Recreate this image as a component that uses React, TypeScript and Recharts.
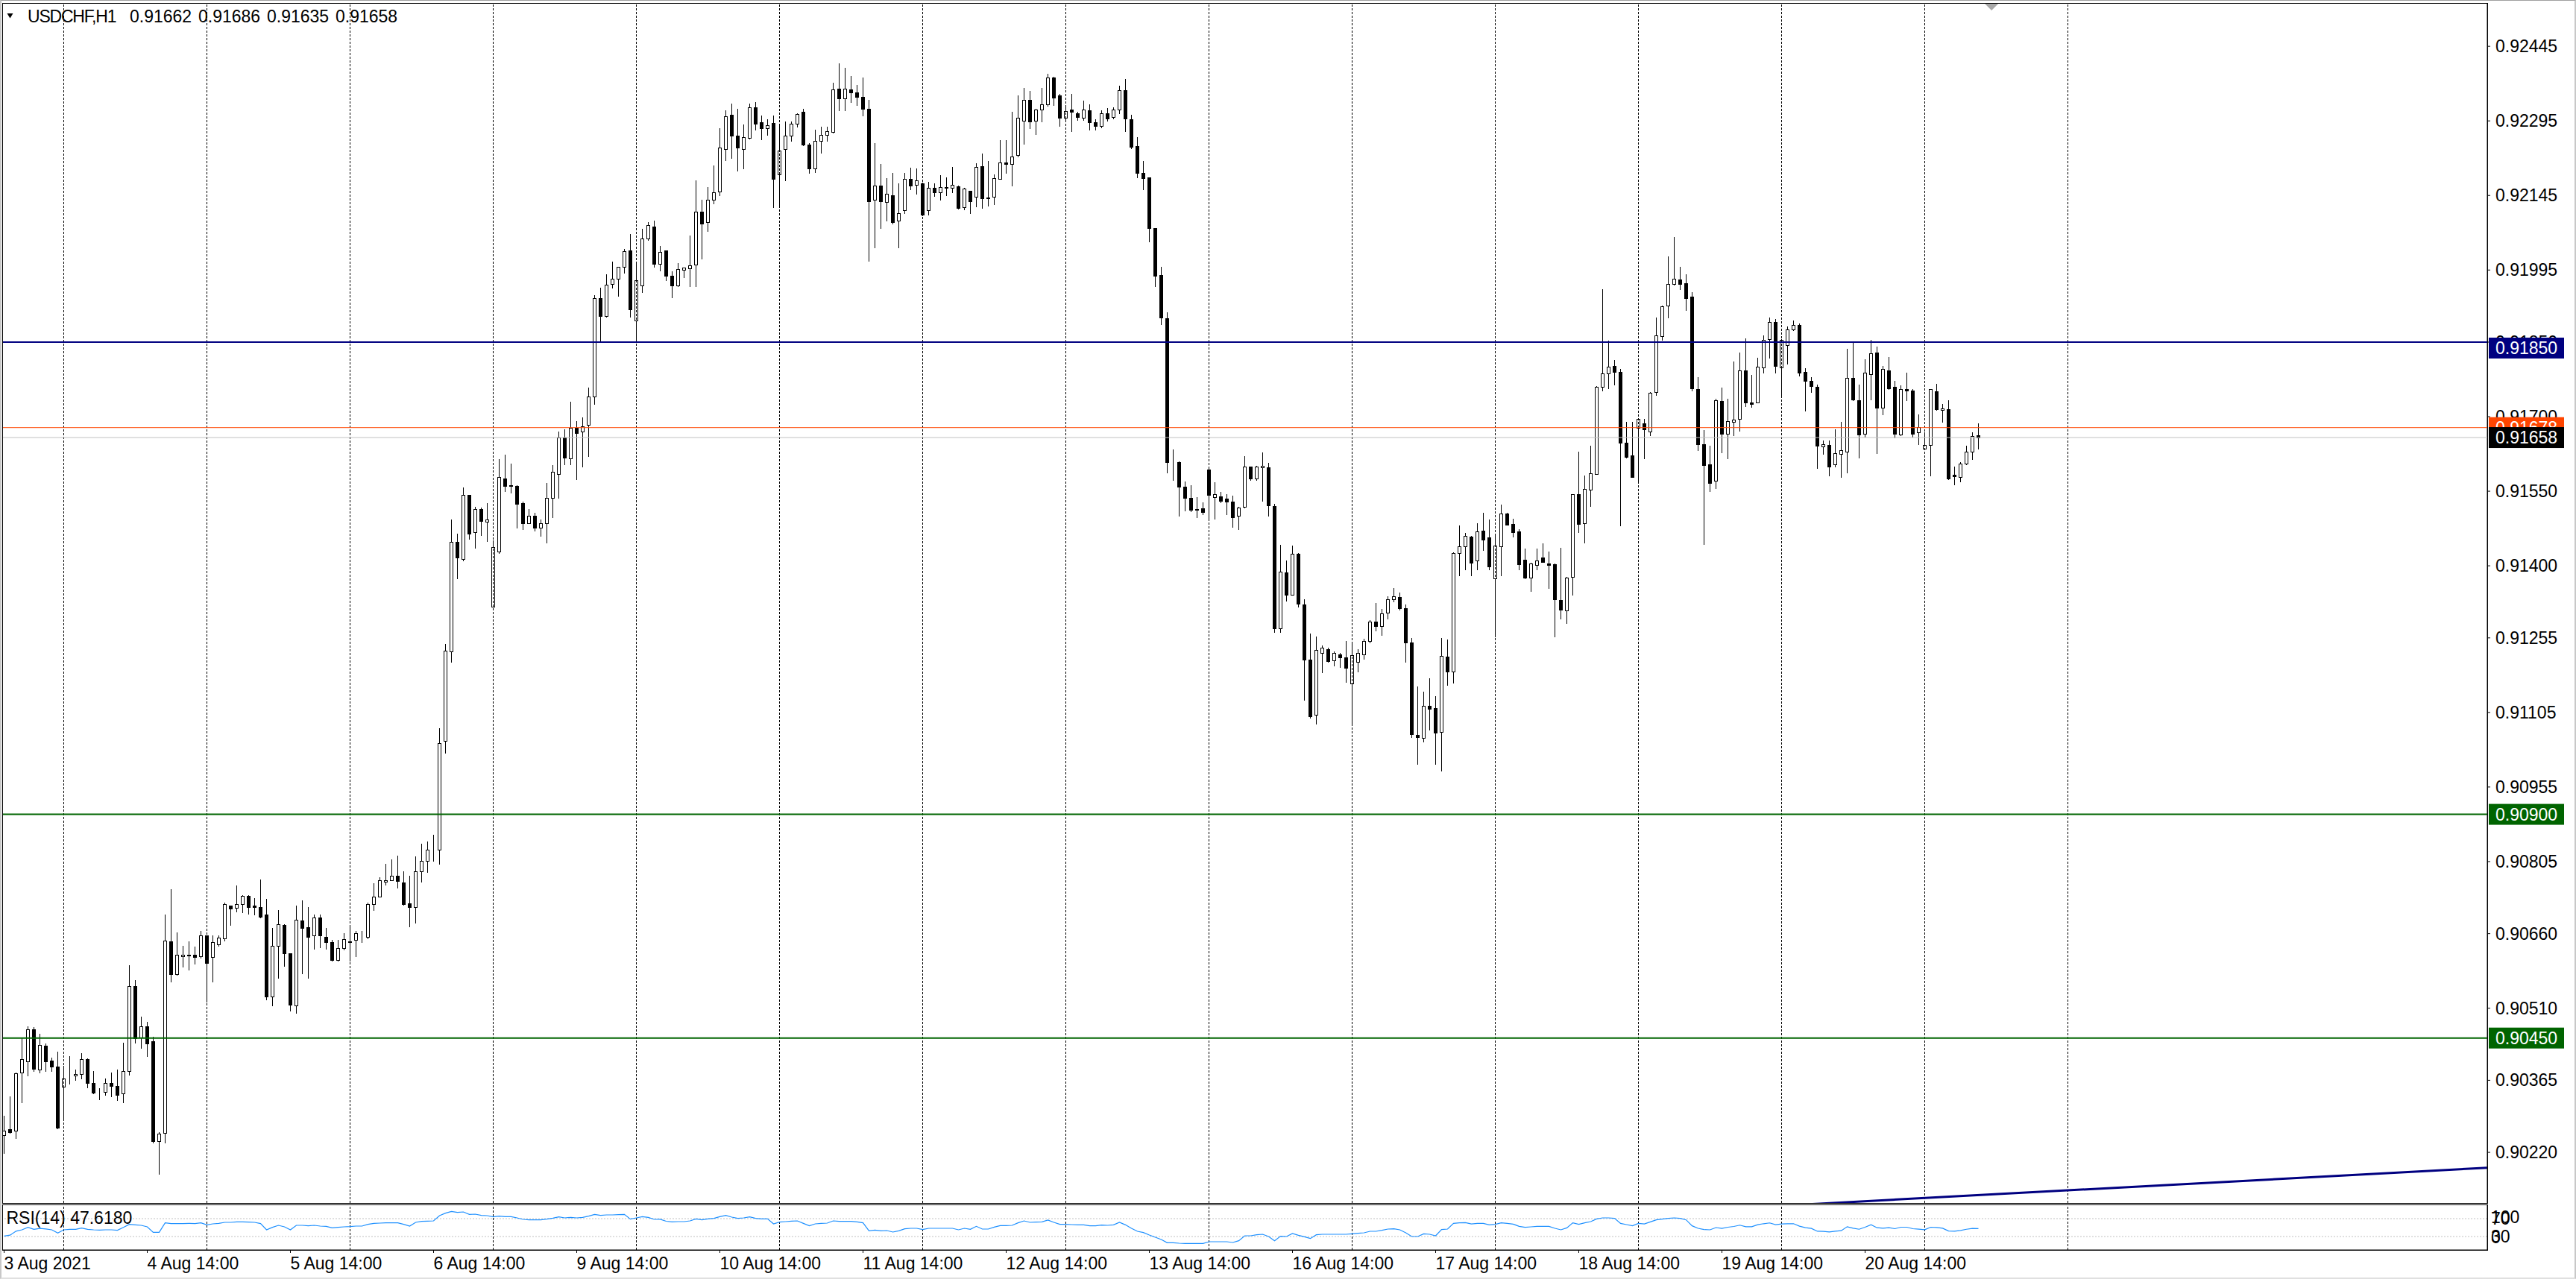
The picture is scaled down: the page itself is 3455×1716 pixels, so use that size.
import React from 'react';
import { ComposedChart, Bar, Line, XAxis, YAxis, ReferenceLine, ReferenceDot } from 'recharts';

type OHLC = [number, number, number, number]; // open, high, low, close

// ---- USDCHF H1 candles, grouped by trading session ----
const aug03: OHLC[] = [
  [0.90255, 0.90294, 0.90219, 0.90264], [0.90266, 0.90332, 0.90259, 0.90260], [0.90264, 0.90380, 0.90248, 0.90379],
  [0.90380, 0.90449, 0.90320, 0.90408], [0.90403, 0.90473, 0.90374, 0.90468], [0.90468, 0.90472, 0.90384, 0.90388],
  [0.90387, 0.90458, 0.90380, 0.90436], [0.90434, 0.90439, 0.90383, 0.90403], [0.90405, 0.90410, 0.90383, 0.90393],
  [0.90392, 0.90423, 0.90268, 0.90269],
];
const aug04: OHLC[] = [
  [0.90352, 0.90394, 0.90287, 0.90368], [0.90374, 0.90414, 0.90358, 0.90375], [0.90374, 0.90387, 0.90365, 0.90378],
  [0.90378, 0.90419, 0.90368, 0.90408], [0.90408, 0.90409, 0.90350, 0.90359], [0.90359, 0.90384, 0.90339, 0.90340],
  [0.90341, 0.90349, 0.90327, 0.90342], [0.90341, 0.90369, 0.90335, 0.90359], [0.90359, 0.90381, 0.90333, 0.90353],
  [0.90353, 0.90386, 0.90325, 0.90335], [0.90338, 0.90440, 0.90321, 0.90383], [0.90383, 0.90596, 0.90376, 0.90554],
  [0.90554, 0.90566, 0.90440, 0.90450], [0.90451, 0.90493, 0.90430, 0.90473], [0.90474, 0.90483, 0.90414, 0.90439],
  [0.90443, 0.90452, 0.90240, 0.90242], [0.90243, 0.90260, 0.90177, 0.90257], [0.90259, 0.90699, 0.90240, 0.90646],
  [0.90645, 0.90750, 0.90564, 0.90578], [0.90578, 0.90663, 0.90577, 0.90617], [0.90614, 0.90635, 0.90594, 0.90618],
  [0.90618, 0.90644, 0.90587, 0.90616], [0.90618, 0.90634, 0.90600, 0.90613], [0.90614, 0.90665, 0.90611, 0.90656],
];
const aug05: OHLC[] = [
  [0.90656, 0.90657, 0.90523, 0.90601], [0.90613, 0.90657, 0.90563, 0.90643], [0.90638, 0.90657, 0.90636, 0.90652],
  [0.90650, 0.90723, 0.90646, 0.90719], [0.90717, 0.90717, 0.90677, 0.90710], [0.90712, 0.90757, 0.90704, 0.90719],
  [0.90719, 0.90737, 0.90703, 0.90736], [0.90736, 0.90737, 0.90700, 0.90714], [0.90717, 0.90732, 0.90698, 0.90713],
  [0.90713, 0.90769, 0.90693, 0.90694], [0.90698, 0.90730, 0.90527, 0.90533], [0.90533, 0.90671, 0.90515, 0.90635],
  [0.90635, 0.90707, 0.90571, 0.90679], [0.90678, 0.90679, 0.90595, 0.90620], [0.90620, 0.90621, 0.90505, 0.90517],
  [0.90515, 0.90717, 0.90500, 0.90688], [0.90687, 0.90727, 0.90580, 0.90671], [0.90673, 0.90713, 0.90571, 0.90653],
  [0.90656, 0.90699, 0.90630, 0.90692], [0.90692, 0.90699, 0.90633, 0.90656], [0.90654, 0.90672, 0.90630, 0.90643],
  [0.90643, 0.90648, 0.90605, 0.90607], [0.90607, 0.90647, 0.90606, 0.90631], [0.90631, 0.90661, 0.90628, 0.90649],
];
const aug06: OHLC[] = [
  [0.90644, 0.90675, 0.90605, 0.90643], [0.90647, 0.90666, 0.90614, 0.90661], [0.90656, 0.90666, 0.90643, 0.90657],
  [0.90654, 0.90722, 0.90651, 0.90719], [0.90719, 0.90761, 0.90708, 0.90735], [0.90735, 0.90774, 0.90734, 0.90768],
  [0.90764, 0.90801, 0.90758, 0.90768], [0.90768, 0.90810, 0.90767, 0.90777], [0.90777, 0.90817, 0.90753, 0.90766],
  [0.90763, 0.90786, 0.90718, 0.90719], [0.90721, 0.90777, 0.90675, 0.90713], [0.90713, 0.90815, 0.90682, 0.90786],
  [0.90786, 0.90841, 0.90765, 0.90807], [0.90807, 0.90845, 0.90784, 0.90829], [0.90830, 0.90859, 0.90807, 0.90831],
  [0.90829, 0.91074, 0.90800, 0.91043], [0.91048, 0.91243, 0.91024, 0.91229], [0.91227, 0.91493, 0.91206, 0.91448],
  [0.91448, 0.91464, 0.91375, 0.91417], [0.91413, 0.91558, 0.91410, 0.91542], [0.91542, 0.91543, 0.91454, 0.91465],
  [0.91467, 0.91519, 0.91436, 0.91514], [0.91514, 0.91517, 0.91462, 0.91490], [0.91488, 0.91526, 0.91449, 0.91493],
];
const aug09: OHLC[] = [
  [0.91318, 0.91451, 0.91317, 0.91438], [0.91428, 0.91615, 0.91425, 0.91579], [0.91576, 0.91623, 0.91550, 0.91561],
  [0.91562, 0.91605, 0.91547, 0.91561], [0.91561, 0.91562, 0.91477, 0.91524], [0.91526, 0.91529, 0.91474, 0.91486],
  [0.91486, 0.91514, 0.91485, 0.91501], [0.91501, 0.91506, 0.91470, 0.91477], [0.91477, 0.91493, 0.91460, 0.91486],
  [0.91486, 0.91566, 0.91446, 0.91537], [0.91537, 0.91602, 0.91498, 0.91589], [0.91585, 0.91670, 0.91537, 0.91658],
  [0.91658, 0.91675, 0.91604, 0.91618], [0.91616, 0.91730, 0.91604, 0.91678], [0.91678, 0.91691, 0.91574, 0.91667],
  [0.91670, 0.91698, 0.91600, 0.91681], [0.91683, 0.91759, 0.91621, 0.91741], [0.91741, 0.91944, 0.91725, 0.91938],
  [0.91939, 0.91960, 0.91851, 0.91902], [0.91902, 0.91986, 0.91901, 0.91966], [0.91967, 0.92012, 0.91960, 0.91978],
  [0.91978, 0.92002, 0.91943, 0.92001], [0.92001, 0.92038, 0.91990, 0.92033], [0.92035, 0.92067, 0.91901, 0.91916],
];
const aug10: OHLC[] = [
  [0.91894, 0.92010, 0.91851, 0.91975], [0.91964, 0.92078, 0.91950, 0.92059], [0.92058, 0.92091, 0.92056, 0.92085],
  [0.92083, 0.92094, 0.92002, 0.92007], [0.92008, 0.92043, 0.91994, 0.92031], [0.92035, 0.92035, 0.91975, 0.91983],
  [0.91983, 0.91993, 0.91940, 0.91964], [0.91964, 0.92009, 0.91963, 0.91997], [0.91996, 0.92000, 0.91980, 0.92000],
  [0.91998, 0.92064, 0.91962, 0.92004], [0.92006, 0.92175, 0.91962, 0.92112], [0.92112, 0.92137, 0.92018, 0.92089],
  [0.92091, 0.92162, 0.92073, 0.92137], [0.92136, 0.92206, 0.92129, 0.92152], [0.92153, 0.92280, 0.92145, 0.92241],
  [0.92238, 0.92317, 0.92216, 0.92305], [0.92307, 0.92330, 0.92221, 0.92265], [0.92266, 0.92320, 0.92195, 0.92242],
  [0.92238, 0.92288, 0.92200, 0.92262], [0.92261, 0.92330, 0.92260, 0.92323], [0.92323, 0.92333, 0.92278, 0.92290],
  [0.92293, 0.92306, 0.92258, 0.92280], [0.92280, 0.92298, 0.92267, 0.92286], [0.92291, 0.92306, 0.92122, 0.92178],
];
const aug11: OHLC[] = [
  [0.92187, 0.92290, 0.92123, 0.92235], [0.92238, 0.92294, 0.92176, 0.92265], [0.92265, 0.92294, 0.92255, 0.92290],
  [0.92290, 0.92311, 0.92283, 0.92309], [0.92313, 0.92319, 0.92246, 0.92247], [0.92248, 0.92251, 0.92191, 0.92199],
  [0.92199, 0.92277, 0.92192, 0.92255], [0.92255, 0.92283, 0.92231, 0.92267], [0.92267, 0.92284, 0.92255, 0.92274],
  [0.92273, 0.92372, 0.92272, 0.92359], [0.92360, 0.92411, 0.92317, 0.92341], [0.92341, 0.92402, 0.92316, 0.92360],
  [0.92358, 0.92385, 0.92333, 0.92352], [0.92352, 0.92367, 0.92327, 0.92343], [0.92343, 0.92382, 0.92306, 0.92320],
  [0.92319, 0.92337, 0.92014, 0.92133], [0.92136, 0.92250, 0.92041, 0.92165], [0.92165, 0.92208, 0.92079, 0.92133],
  [0.92132, 0.92180, 0.92094, 0.92148], [0.92145, 0.92191, 0.92089, 0.92092], [0.92094, 0.92169, 0.92040, 0.92109],
  [0.92115, 0.92191, 0.92109, 0.92178], [0.92178, 0.92201, 0.92157, 0.92165], [0.92167, 0.92199, 0.92148, 0.92175],
];
const aug12: OHLC[] = [
  [0.92170, 0.92171, 0.92105, 0.92106], [0.92115, 0.92173, 0.92106, 0.92160], [0.92160, 0.92170, 0.92144, 0.92152],
  [0.92152, 0.92186, 0.92136, 0.92162], [0.92161, 0.92181, 0.92145, 0.92162], [0.92160, 0.92203, 0.92152, 0.92167],
  [0.92163, 0.92165, 0.92118, 0.92120], [0.92121, 0.92160, 0.92117, 0.92159], [0.92154, 0.92154, 0.92110, 0.92134],
  [0.92142, 0.92210, 0.92123, 0.92202], [0.92204, 0.92229, 0.92120, 0.92139], [0.92141, 0.92214, 0.92124, 0.92140],
  [0.92142, 0.92188, 0.92128, 0.92180], [0.92178, 0.92256, 0.92178, 0.92211], [0.92211, 0.92256, 0.92191, 0.92208],
  [0.92208, 0.92314, 0.92165, 0.92224], [0.92227, 0.92347, 0.92224, 0.92301], [0.92295, 0.92362, 0.92249, 0.92337],
  [0.92337, 0.92355, 0.92281, 0.92294], [0.92295, 0.92320, 0.92268, 0.92318], [0.92318, 0.92361, 0.92294, 0.92328],
  [0.92328, 0.92390, 0.92326, 0.92383], [0.92383, 0.92384, 0.92327, 0.92342], [0.92347, 0.92349, 0.92285, 0.92301],
];
const aug13: OHLC[] = [
  [0.92301, 0.92323, 0.92297, 0.92315], [0.92318, 0.92349, 0.92275, 0.92313], [0.92310, 0.92313, 0.92297, 0.92303],
  [0.92302, 0.92336, 0.92297, 0.92318], [0.92316, 0.92328, 0.92277, 0.92292], [0.92292, 0.92298, 0.92277, 0.92285],
  [0.92285, 0.92316, 0.92282, 0.92311], [0.92310, 0.92321, 0.92295, 0.92300], [0.92303, 0.92323, 0.92300, 0.92318],
  [0.92318, 0.92366, 0.92310, 0.92357], [0.92357, 0.92379, 0.92275, 0.92300], [0.92299, 0.92308, 0.92240, 0.92243],
  [0.92245, 0.92263, 0.92182, 0.92191], [0.92191, 0.92214, 0.92158, 0.92180], [0.92181, 0.92181, 0.92053, 0.92079],
  [0.92079, 0.92080, 0.91962, 0.91983], [0.91985, 0.92002, 0.91886, 0.91900], [0.91898, 0.91910, 0.91588, 0.91609],
  [0.91609, 0.91634, 0.91573, 0.91608], [0.91609, 0.91610, 0.91500, 0.91559], [0.91559, 0.91569, 0.91511, 0.91537],
  [0.91537, 0.91562, 0.91510, 0.91512], [0.91512, 0.91538, 0.91498, 0.91514], [0.91515, 0.91528, 0.91504, 0.91508],
];
const aug16: OHLC[] = [
  [0.91594, 0.91595, 0.91495, 0.91542], [0.91538, 0.91568, 0.91495, 0.91544], [0.91540, 0.91549, 0.91527, 0.91531],
  [0.91535, 0.91544, 0.91504, 0.91529], [0.91529, 0.91541, 0.91478, 0.91498], [0.91500, 0.91518, 0.91474, 0.91517],
  [0.91518, 0.91621, 0.91517, 0.91599], [0.91599, 0.91600, 0.91573, 0.91575], [0.91575, 0.91601, 0.91573, 0.91599],
  [0.91598, 0.91628, 0.91531, 0.91601], [0.91598, 0.91607, 0.91501, 0.91522], [0.91520, 0.91524, 0.91266, 0.91274],
  [0.91274, 0.91442, 0.91266, 0.91388], [0.91387, 0.91410, 0.91330, 0.91342], [0.91342, 0.91441, 0.91341, 0.91424],
  [0.91424, 0.91425, 0.91317, 0.91323], [0.91322, 0.91332, 0.91130, 0.91211], [0.91211, 0.91264, 0.91094, 0.91098],
  [0.91101, 0.91258, 0.91083, 0.91230], [0.91224, 0.91240, 0.91186, 0.91235], [0.91232, 0.91235, 0.91206, 0.91208],
  [0.91209, 0.91227, 0.91200, 0.91224], [0.91222, 0.91225, 0.91197, 0.91215], [0.91215, 0.91249, 0.91167, 0.91195],
];
const aug17: OHLC[] = [
  [0.91163, 0.91246, 0.91080, 0.91220], [0.91206, 0.91232, 0.91188, 0.91224], [0.91222, 0.91253, 0.91212, 0.91248],
  [0.91248, 0.91290, 0.91245, 0.91288], [0.91288, 0.91325, 0.91269, 0.91278], [0.91279, 0.91313, 0.91261, 0.91304],
  [0.91305, 0.91338, 0.91294, 0.91332], [0.91332, 0.91355, 0.91328, 0.91338], [0.91337, 0.91346, 0.91312, 0.91314],
  [0.91314, 0.91322, 0.91206, 0.91246], [0.91246, 0.91254, 0.91055, 0.91061], [0.91060, 0.91157, 0.91002, 0.91056],
  [0.91054, 0.91147, 0.91047, 0.91118], [0.91118, 0.91174, 0.91071, 0.91113], [0.91114, 0.91138, 0.91002, 0.91065],
  [0.91066, 0.91255, 0.90988, 0.91218], [0.91217, 0.91251, 0.91161, 0.91188], [0.91187, 0.91427, 0.91165, 0.91426],
  [0.91426, 0.91481, 0.91381, 0.91439], [0.91439, 0.91466, 0.91393, 0.91460], [0.91459, 0.91460, 0.91381, 0.91406],
  [0.91410, 0.91485, 0.91393, 0.91469], [0.91470, 0.91506, 0.91432, 0.91453], [0.91457, 0.91493, 0.91393, 0.91399],
];
const aug18: OHLC[] = [
  [0.91375, 0.91462, 0.91257, 0.91441], [0.91439, 0.91523, 0.91381, 0.91505], [0.91505, 0.91506, 0.91482, 0.91483],
  [0.91484, 0.91495, 0.91459, 0.91467], [0.91469, 0.91474, 0.91393, 0.91403], [0.91412, 0.91435, 0.91375, 0.91376],
  [0.91376, 0.91406, 0.91349, 0.91405], [0.91402, 0.91435, 0.91392, 0.91410], [0.91417, 0.91445, 0.91408, 0.91408],
  [0.91405, 0.91428, 0.91355, 0.91401], [0.91403, 0.91404, 0.91258, 0.91333], [0.91331, 0.91436, 0.91294, 0.91312],
  [0.91310, 0.91377, 0.91284, 0.91376], [0.91378, 0.91544, 0.91341, 0.91544], [0.91544, 0.91630, 0.91468, 0.91484],
  [0.91486, 0.91582, 0.91446, 0.91554], [0.91553, 0.91642, 0.91520, 0.91586], [0.91585, 0.91762, 0.91584, 0.91760],
  [0.91760, 0.91956, 0.91753, 0.91787], [0.91787, 0.91853, 0.91757, 0.91801], [0.91802, 0.91814, 0.91765, 0.91790],
  [0.91790, 0.91796, 0.91481, 0.91648], [0.91648, 0.91690, 0.91618, 0.91619], [0.91622, 0.91690, 0.91578, 0.91578],
];
const aug19: OHLC[] = [
  [0.91678, 0.91696, 0.91566, 0.91695], [0.91686, 0.91695, 0.91616, 0.91674], [0.91670, 0.91749, 0.91663, 0.91748],
  [0.91749, 0.91900, 0.91744, 0.91864], [0.91862, 0.91924, 0.91855, 0.91922], [0.91924, 0.92023, 0.91899, 0.91967],
  [0.91967, 0.92062, 0.91966, 0.91977], [0.91976, 0.92001, 0.91957, 0.91967], [0.91969, 0.91986, 0.91915, 0.91938],
  [0.91941, 0.91950, 0.91752, 0.91757], [0.91756, 0.91780, 0.91632, 0.91645], [0.91645, 0.91673, 0.91444, 0.91603],
  [0.91604, 0.91642, 0.91550, 0.91567], [0.91571, 0.91736, 0.91556, 0.91733], [0.91732, 0.91759, 0.91628, 0.91666],
  [0.91666, 0.91736, 0.91616, 0.91691], [0.91689, 0.91811, 0.91663, 0.91694], [0.91695, 0.91829, 0.91672, 0.91793],
  [0.91793, 0.91857, 0.91721, 0.91729], [0.91729, 0.91784, 0.91720, 0.91726], [0.91729, 0.91818, 0.91728, 0.91801],
  [0.91799, 0.91864, 0.91789, 0.91854], [0.91856, 0.91899, 0.91819, 0.91890], [0.91890, 0.91896, 0.91788, 0.91802],
];
const aug20: OHLC[] = [
  [0.91799, 0.91856, 0.91743, 0.91855], [0.91844, 0.91881, 0.91807, 0.91876], [0.91875, 0.91893, 0.91874, 0.91885],
  [0.91885, 0.91888, 0.91783, 0.91789], [0.91790, 0.91798, 0.91712, 0.91772], [0.91772, 0.91779, 0.91749, 0.91761],
  [0.91760, 0.91764, 0.91597, 0.91641], [0.91640, 0.91652, 0.91625, 0.91644], [0.91643, 0.91652, 0.91582, 0.91599],
  [0.91604, 0.91675, 0.91599, 0.91626], [0.91625, 0.91689, 0.91578, 0.91632], [0.91630, 0.91836, 0.91588, 0.91778],
  [0.91778, 0.91850, 0.91733, 0.91734], [0.91733, 0.91765, 0.91618, 0.91664], [0.91665, 0.91815, 0.91659, 0.91789],
  [0.91786, 0.91855, 0.91735, 0.91827], [0.91829, 0.91841, 0.91627, 0.91718], [0.91718, 0.91802, 0.91704, 0.91796],
  [0.91793, 0.91820, 0.91756, 0.91757], [0.91760, 0.91772, 0.91658, 0.91666], [0.91664, 0.91763, 0.91663, 0.91756],
  [0.91755, 0.91788, 0.91733, 0.91753], [0.91752, 0.91755, 0.91660, 0.91666], [0.91668, 0.91704, 0.91645, 0.91679],
];
const aug23: OHLC[] = [
  [0.91635, 0.91669, 0.91634, 0.91643], [0.91643, 0.91756, 0.91582, 0.91755], [0.91751, 0.91766, 0.91714, 0.91715],
  [0.91714, 0.91725, 0.91689, 0.91716], [0.91715, 0.91733, 0.91574, 0.91576], [0.91583, 0.91600, 0.91563, 0.91580],
  [0.91579, 0.91609, 0.91570, 0.91605], [0.91606, 0.91642, 0.91604, 0.91630], [0.91630, 0.91669, 0.91615, 0.91661],
  [0.91662, 0.91686, 0.91635, 0.91658],
];

// ---- RSI(14) readings, same session grouping ----
const rsiAug03 = [31, 33, 42, 45, 50.5, 46, 48, 47, 45, 38];
const rsiAug04 = [45, 46, 46, 49, 46, 45, 44.5, 45, 45, 44, 50.5, 57.2, 56, 55, 51.7, 39.4, 39.4, 60.6, 58.9, 58.9, 58.9, 59.4, 58.9, 60.6];
const rsiAug05 = [56.1, 58.3, 59.4, 61.7, 61.7, 62.8, 62.8, 62.2, 61.7, 58.9, 45, 50.6, 55, 51.7, 45, 55, 55, 53.9, 55, 53.3, 52.8, 49.4, 50.6, 51.7];
const rsiAug06 = [52.2, 53.3, 53.3, 57.2, 59.4, 60, 60.6, 60.6, 60.6, 57.2, 53.3, 61.7, 63.9, 64.4, 65, 76.7, 82.2, 86.1, 83.9, 85, 79.4, 80, 77.2, 76.7];
const rsiAug09 = [73.9, 75.6, 74.4, 74.4, 71.7, 68.3, 67.2, 67.2, 67.2, 68.9, 71.1, 73.9, 71.7, 72.8, 71.7, 72.8, 75.6, 79.4, 77.2, 78.3, 78.3, 78.9, 79.4, 68.9];
const rsiAug10 = [71.7, 74.4, 72.8, 68.3, 68.5, 64.2, 62.8, 63.3, 63.3, 65, 69.4, 67.2, 69.4, 70.6, 74.4, 77.2, 73.3, 70.6, 71.7, 73.9, 70.6, 69.4, 69.4, 58.3];
const rsiAug11 = [62.2, 63.3, 64.4, 65, 59.4, 53.9, 58.3, 59.4, 60, 65, 63.9, 63.9, 63.9, 62.8, 60.6, 42.8, 44.4, 42.8, 43.3, 40, 42.8, 47.2, 48.3, 48.3];
const rsiAug12 = [45.6, 48.3, 48.3, 48.3, 48.3, 48.3, 45, 48.3, 46.1, 52.8, 46.7, 46.7, 51.1, 54.4, 54.4, 55, 60.6, 65, 61.7, 62.2, 62.8, 66.7, 61.7, 57.2];
const rsiAug13 = [57.2, 56.7, 56.1, 56.1, 53.9, 53.9, 55.6, 55, 56.1, 61.7, 56.1, 48.3, 41.7, 38.9, 33.3, 28.3, 23.3, 16.1, 16.1, 15, 14.4, 14.4, 14.4, 14.4];
const rsiAug16 = [18.3, 18.3, 18.3, 18.3, 16.7, 20.6, 31.7, 31.7, 33.9, 35, 30, 20.6, 30.6, 30, 36.7, 32.8, 29.4, 25.6, 33.9, 35, 35, 35, 35, 35];
const rsiAug17 = [36.1, 37.2, 38.3, 41.7, 41.7, 43.9, 46.7, 47.2, 45, 38.3, 30, 30, 36.1, 35, 31.7, 45.6, 46.7, 59.4, 60.6, 61.1, 58.3, 59.4, 59.4, 56.1];
const rsiAug18 = [57.2, 60.6, 59.4, 57.8, 52.8, 50.6, 51.7, 52.8, 52.8, 52.8, 48.3, 45, 49.4, 60.6, 57.2, 60.6, 63.3, 69.4, 71.7, 71.7, 70.6, 59.4, 56.7, 53.9];
const rsiAug19 = [59.4, 58.3, 62.8, 67.2, 68.9, 70.6, 71.7, 70.6, 67.2, 53.9, 48.3, 45.6, 45, 50, 48, 50.8, 52.5, 55.4, 52, 52, 56.5, 58.7, 60.4, 56.5];
const rsiAug20 = [58.2, 58.7, 58.7, 53.1, 49.7, 48, 41.8, 41.3, 40.1, 41.8, 43, 52, 48.6, 46.3, 50.8, 56.5, 49.7, 48.6, 49.7, 47.5, 50.8, 50.8, 47.5, 46.3];
const rsiAug23 = [45.2, 50.8, 50.3, 48.6, 42.4, 41.8, 43.5, 46.3, 48, 47.6];

// ---- axis / annotation values ----
const priceTicks = [0.92445, 0.92295, 0.92145, 0.91995, 0.9185, 0.917, 0.9155, 0.914, 0.91255, 0.91105, 0.90955, 0.90805, 0.9066, 0.9051, 0.90365, 0.9022];
const rsiTicks = [0, 30, 70, 100];
const rsiLevels = [70, 30];
const timeTickIndex = [0, 24, 48, 72, 96, 120, 144, 168, 192, 216, 240, 264, 288, 312];
const timeTickLabels = ['3 Aug 2021', '4 Aug 14:00', '5 Aug 14:00', '6 Aug 14:00', '9 Aug 14:00', '10 Aug 14:00', '11 Aug 14:00',
  '12 Aug 14:00', '13 Aug 14:00', '16 Aug 14:00', '17 Aug 14:00', '18 Aug 14:00', '19 Aug 14:00', '20 Aug 14:00'];
const daySeparatorIndex = [10, 34, 58, 82, 106, 130, 154, 178, 202, 226, 250, 274, 298, 322, 346];
const resistanceLevel = 0.9185;
const supportLevels = [0.909, 0.9045];
const askPrice = 0.91678;
const bidPrice = 0.91658;
const trendIndex = [280, 416.3];
const trendPrice = [0.90101, 0.90189];
const chartShiftIndex = 333.2;
const symbolName = 'USDCHF,H1';
const lastBar = ['0.91662', '0.91686', '0.91635', '0.91658'];
const rsiTitle = 'RSI(14) 47.6180';

const candles: OHLC[] = [aug03, aug04, aug05, aug06, aug09, aug10, aug11, aug12, aug13, aug16, aug17, aug18, aug19, aug20, aug23].flat();
const rsiValues: number[] = [rsiAug03, rsiAug04, rsiAug05, rsiAug06, rsiAug09, rsiAug10, rsiAug11, rsiAug12, rsiAug13,
  rsiAug16, rsiAug17, rsiAug18, rsiAug19, rsiAug20, rsiAug23].flat();

const rows = candles.map((k, i) => ({ i, o: k[0], h: k[1], l: k[2], c: k[3], range: [k[2], k[1]], rsi: rsiValues[i] }));

// ---- layout ----
const FONT = '"Liberation Sans", Arial, sans-serif';
const FS = 23;
const X_DOMAIN: [number, number] = [-0.3125, 416.3125];
const P_DOMAIN: [number, number] = [0.901182, 0.925322];
const NAVY = '#000080';
const GREEN = '#006400';
const MAIN_MARGIN = { top: 4, right: 0, bottom: 2, left: 3 };

function CandleShape(props: any) {
  const { x, y, width, height, payload } = props;
  if (!payload || x == null || y == null) return null;
  const { o, h, l, c } = payload;
  const yTop = Math.min(y, y + height);
  const yBot = Math.max(y, y + height);
  const span = h - l;
  const toY = (p: number) => (span > 0 ? yTop + ((h - p) / span) * (yBot - yTop) : yTop);
  const cx = Math.floor(x + width / 2) + 0.5;
  const yo = toY(o);
  const yc = toY(c);
  const bt = Math.round(Math.min(yo, yc)) + 0.5;
  const bb = Math.round(Math.max(yo, yc)) + 0.5;
  const up = c >= o;
  return (
    <g>
      <line x1={cx} x2={cx} y1={Math.round(yTop)} y2={Math.round(yBot) + 1} stroke="#000" strokeWidth={1} />
      <rect x={cx - 2} y={bt} width={4} height={Math.max(0, bb - bt)} fill={up ? '#fff' : '#000'} stroke="#000" strokeWidth={1} />
    </g>
  );
}

function PriceTick(props: any) {
  const { x, y, payload } = props;
  return (
    <text x={x} y={y + 8} fontSize={FS} fontFamily={FONT} fill="#000" textAnchor="start">
      {Number(payload.value).toFixed(5)}
    </text>
  );
}

function RsiTick(props: any) {
  const { x, y, payload } = props;
  const cy = Math.min(Math.max(y, 15.5), 42.5);
  return (
    <text x={x} y={cy + 8} fontSize={FS} fontFamily={FONT} fill="#000" textAnchor="start">
      {payload.value}
    </text>
  );
}

function TimeTick(props: any) {
  const { x, y, payload } = props;
  const k = timeTickIndex.indexOf(payload.value);
  return (
    <text x={x} y={y + 20} fontSize={FS} fontFamily={FONT} fill="#000" textAnchor="start">
      {k >= 0 ? timeTickLabels[k] : ''}
    </text>
  );
}

function tag(text: string, fill: string, dy: number) {
  return (lp: any) => {
    const vb = lp && lp.viewBox;
    if (!vb) return null;
    const x0 = vb.x + vb.width + 2;
    const cy = vb.y + dy;
    return (
      <g>
        <rect x={x0} y={cy - 14} width={101} height={28} fill={fill} />
        <text x={x0 + 9} y={cy + 8} fontSize={FS} fontFamily={FONT} fill="#fff">{text}</text>
      </g>
    );
  };
}

export default function App() {
  return (
    <div style={{ position: 'fixed', left: 0, top: 0, width: 3455, height: 1716, background: '#fff', overflow: 'hidden' }}>
      {/* main price panel */}
      <div style={{ position: 'absolute', left: 0, top: 0 }}>
        <ComposedChart width={3455} height={1616} data={rows} margin={MAIN_MARGIN}>
          <XAxis dataKey="i" type="number" domain={X_DOMAIN} allowDataOverflow hide />
          <YAxis
            orientation="right"
            type="number"
            domain={P_DOMAIN}
            allowDataOverflow
            ticks={priceTicks}
            interval={0}
            width={119}
            axisLine={{ stroke: '#000' }}
            tickLine={{ stroke: '#000' }}
            tickSize={4}
            tickMargin={7}
            tick={<PriceTick />}
          />
          {daySeparatorIndex.map((d) => (
            <ReferenceLine key={'sep' + d} x={d} stroke="#000" strokeWidth={1} strokeDasharray="3 2" ifOverflow="hidden" />
          ))}
          <Bar dataKey="range" barSize={8} isAnimationActive={false} shape={(p: any) => <CandleShape {...p} />} />
          <ReferenceLine
            segment={[{ x: trendIndex[0], y: trendPrice[0] }, { x: trendIndex[1], y: trendPrice[1] }]}
            stroke={NAVY}
            strokeWidth={3}
            ifOverflow="hidden"
          />
          <ReferenceDot
            x={chartShiftIndex}
            y={P_DOMAIN[1]}
            ifOverflow="visible"
            shape={(p: any) => (
              <polygon points={`${p.cx - 9},${p.cy + 1} ${p.cx + 9},${p.cy + 1} ${p.cx},${p.cy + 10}`} fill="#A8A8A8" />
            )}
          />
        </ComposedChart>
      </div>

      {/* overlay: horizontal price levels and their scale tags (drawn above the scale labels) */}
      <div style={{ position: 'absolute', left: 0, top: 0 }}>
        <ComposedChart width={3455} height={1616} data={rows} margin={MAIN_MARGIN}>
          <XAxis dataKey="i" type="number" domain={X_DOMAIN} allowDataOverflow hide />
          <YAxis orientation="right" type="number" domain={P_DOMAIN} allowDataOverflow width={119} axisLine={false} tickLine={false} tick={false} />
          <Line dataKey="c" stroke="none" dot={false} isAnimationActive={false} activeDot={false} />
          <ReferenceLine y={resistanceLevel} stroke={NAVY} strokeWidth={2} label={tag(resistanceLevel.toFixed(5), NAVY, 8)} />
          {supportLevels.map((s) => (
            <ReferenceLine key={'sup' + s} y={s} stroke={GREEN} strokeWidth={2} label={tag(s.toFixed(5), GREEN, 0)} />
          ))}
          <ReferenceLine y={askPrice} stroke="#FF4500" strokeWidth={1} label={tag(askPrice.toFixed(5), '#FF4500', 0)} />
          <ReferenceLine y={bidPrice} stroke="#C0C0C0" strokeWidth={1} label={tag(bidPrice.toFixed(5), '#000', 0)} />
        </ComposedChart>
      </div>

      {/* RSI panel + time axis */}
      <div style={{ position: 'absolute', left: 0, top: 1617 }}>
        <ComposedChart width={3455} height={99} data={rows} margin={{ top: 0, right: 0, bottom: 0, left: 3 }}>
          <XAxis
            dataKey="i"
            type="number"
            domain={X_DOMAIN}
            allowDataOverflow
            ticks={timeTickIndex}
            interval={0}
            height={39}
            axisLine={{ stroke: '#000' }}
            tickLine={{ stroke: '#000' }}
            tickSize={4}
            tickMargin={2}
            tick={<TimeTick />}
          />
          <YAxis
            orientation="right"
            type="number"
            domain={[0, 100]}
            allowDataOverflow
            ticks={rsiTicks}
            interval={0}
            width={119}
            axisLine={{ stroke: '#000' }}
            tickLine={false}
            tickSize={0}
            tickMargin={5}
            tick={<RsiTick />}
          />
          {rsiLevels.map((lv) => (
            <ReferenceLine key={'lv' + lv} y={lv} stroke="#C0C0C0" strokeWidth={1} strokeDasharray="2 2" />
          ))}
          {daySeparatorIndex.map((d) => (
            <ReferenceLine key={'rsep' + d} x={d} stroke="#000" strokeWidth={1} strokeDasharray="3 2" ifOverflow="hidden" />
          ))}
          <Line dataKey="rsi" type="linear" stroke="#1E90FF" strokeWidth={1.2} dot={false} isAnimationActive={false} />
        </ComposedChart>
      </div>

      {/* panel frames */}
      <div style={{ position: 'absolute', left: 3, top: 4, width: 3334, height: 1611, border: '1px solid #000', boxSizing: 'border-box', pointerEvents: 'none' }} />
      <div style={{ position: 'absolute', left: 3, top: 1616, width: 3334, height: 62, border: '1px solid #000', boxSizing: 'border-box', pointerEvents: 'none' }} />
      <div style={{ position: 'absolute', left: 0, top: 0, width: 3455, height: 1716, borderTop: '1px solid #a0a0a0', borderLeft: '2px solid #c8c8c8', borderRight: '2px solid #c8c8c8', borderBottom: '2px solid #e0e0e0', boxSizing: 'border-box', pointerEvents: 'none' }} />

      {/* header text */}
      <svg style={{ position: 'absolute', left: 0, top: 0 }} width={700} height={40}>
        <polygon points="9.5,18 17.5,18 13.5,24.5" fill="#000" />
        <text x={37} y={29.5} fontSize={FS} fontFamily={FONT} fill="#000" style={{ whiteSpace: 'pre' }}>
          <tspan letterSpacing={-1.2}>{symbolName}</tspan>
          <tspan x={174}>{lastBar[0]}</tspan>
          <tspan x={266}>{lastBar[1]}</tspan>
          <tspan x={358}>{lastBar[2]}</tspan>
          <tspan x={450}>{lastBar[3]}</tspan>
        </text>
      </svg>

      {/* RSI title */}
      <svg style={{ position: 'absolute', left: 0, top: 1617 }} width={300} height={40}>
        <text x={8.5} y={24.5} fontSize={FS} fontFamily={FONT} fill="#000">{rsiTitle}</text>
      </svg>
    </div>
  );
}
